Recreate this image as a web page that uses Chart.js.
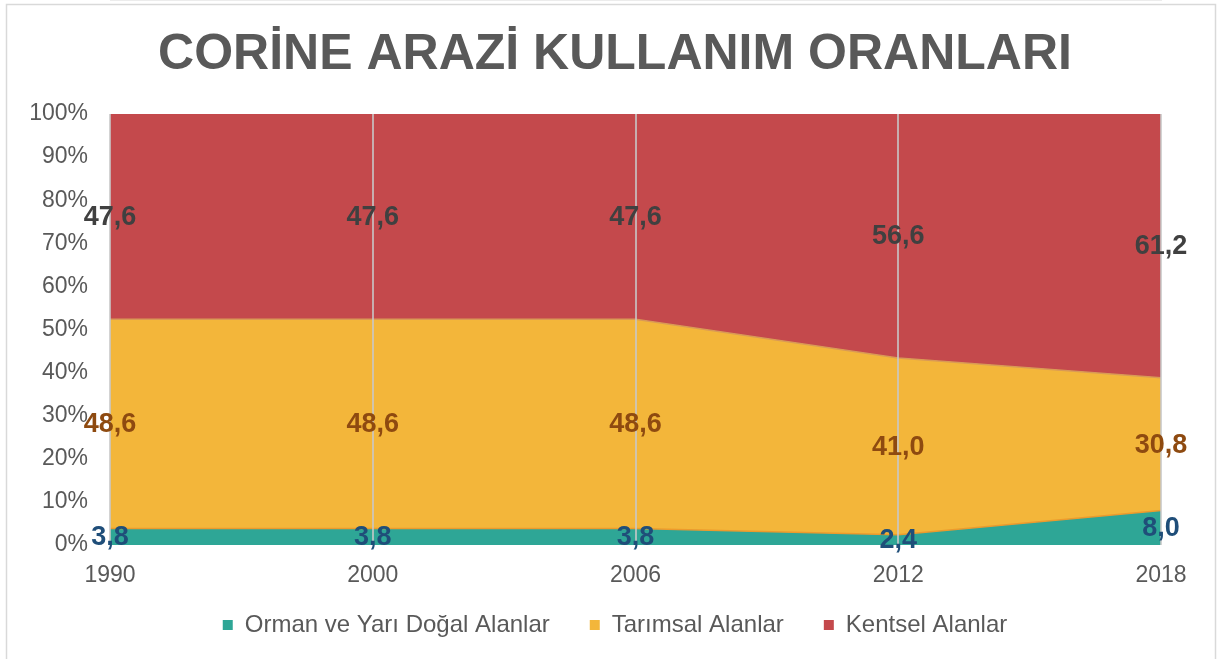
<!DOCTYPE html>
<html>
<head>
<meta charset="utf-8">
<script src="https://cdn.jsdelivr.net/npm/chart.js@4/dist/chart.umd.min.js"></script>
<style>
html,body{margin:0;padding:0;background:#fff;}
#wrap{position:absolute;left:0;top:0;width:1217px;height:659px;}
</style>
</head>
<body>
<div id="wrap"><canvas id="c" width="1217" height="659"></canvas></div>
<script>
const categories = ['1990', '2000', '2006', '2012', '2018'];
const ormanValues = [3.8, 3.8, 3.8, 2.4, 8.0];
const tarimsalValues = [48.6, 48.6, 48.6, 41.0, 30.8];
const kentselValues = [47.6, 47.6, 47.6, 56.6, 61.2];
const seriesNames = ['Orman ve Yarı Doğal Alanlar', 'Tarımsal Alanlar', 'Kentsel Alanlar'];
const yTickValues = [0, 10, 20, 30, 40, 50, 60, 70, 80, 90, 100];
const chartTitle = 'CORİNE ARAZİ KULLANIM ORANLARI';

const FONT = "'Liberation Sans', Arial, sans-serif";
const GREY = '#595959';

const fillColors = ['#2EA696', '#F3B63A', '#C4494C'];
const borderColors = ['#EC9A2C', '#D99A55', '#C4494C'];
const labelColors = ['#1F4E79', '#8E4A10', '#404040'];

const borderPlugin = {
  id: 'outerBorder',
  beforeDraw(chart) {
    const ctx = chart.ctx;
    ctx.save();
    ctx.fillStyle = '#fff';
    ctx.fillRect(0, 0, chart.width, chart.height);
    ctx.strokeStyle = '#D9D9D9';
    ctx.lineWidth = 1.5;
    ctx.beginPath();
    ctx.moveTo(6.5, 700);
    ctx.lineTo(6.5, 4.5);
    ctx.lineTo(1215.5, 4.5);
    ctx.lineTo(1215.5, 700);
    ctx.stroke();
    ctx.restore();
  }
};

const valueLabelPlugin = {
  id: 'valueLabels',
  afterDraw(chart) {
    const ctx = chart.ctx;
    const yScale = chart.scales.y;
    const xScale = chart.scales.x;
    ctx.save();
    ctx.font = "bold 27px " + FONT;
    ctx.textAlign = 'center';
    ctx.textBaseline = 'middle';
    const n = chart.data.labels.length;
    for (let i = 0; i < n; i++) {
      let base = 0;
      chart.data.datasets.forEach((ds, di) => {
        const v = ds.data[i];
        const y = yScale.getPixelForValue(base + v / 2);
        const x = xScale.getPixelForValue(i);
        ctx.fillStyle = labelColors[di];
        ctx.fillText(v.toFixed(1).replace('.', ','), x, y + 1);
        base += v;
      });
    }
    ctx.restore();
  }
};

const datasets = [ormanValues, tarimsalValues, kentselValues].map((vals, i) => ({
  label: seriesNames[i],
  data: vals,
  backgroundColor: fillColors[i],
  borderColor: borderColors[i],
  borderWidth: 1.5,
  fill: i === 0 ? 'origin' : '-1',
  pointRadius: 0,
  tension: 0
}));

function noLabelClip(scale) { scale._computeLabelArea = () => undefined; }

new Chart(document.getElementById('c'), {
  type: 'line',
  data: { labels: categories, datasets },
  plugins: [borderPlugin, valueLabelPlugin],
  options: {
    responsive: false,
    animation: false,
    layout: { padding: { left: 69, right: 56, top: 0, bottom: 12 } },
    plugins: {
      tooltip: { enabled: false },
      title: {
        display: true,
        text: chartTitle,
        color: GREY,
        font: { family: FONT, size: 50, weight: 'bold' },
        padding: { top: 25, bottom: 29 }
      },
      legend: {
        position: 'bottom',
        labels: {
          color: GREY,
          font: { family: FONT, size: 24 },
          boxWidth: 10,
          boxHeight: 10,
          padding: 40,
          generateLabels(chart) {
            return chart.data.datasets.map((ds, i) => ({
              text: ds.label,
              fillStyle: fillColors[i],
              strokeStyle: fillColors[i],
              lineWidth: 0,
              hidden: false,
              datasetIndex: i,
              fontColor: GREY
            }));
          }
        }
      }
    },
    scales: {
      x: {
        offset: false,
        afterFit(scale) { scale.height = 28; noLabelClip(scale); },
        grid: { display: true, z: 1, color: 'rgba(200,200,200,0.8)', lineWidth: 2, drawTicks: false },
        border: { display: true, color: '#D9D9D9' },
        ticks: { color: GREY, font: { family: FONT, size: 23 }, padding: 17, maxRotation: 0 }
      },
      y: {
        stacked: true,
        min: 0,
        max: 100,
        afterFit(scale) { scale.width = 41; noLabelClip(scale); },
        afterBuildTicks(scale) { scale.ticks = yTickValues.map(v => ({ value: v })); },
        grid: { display: false, drawTicks: false },
        border: { display: false },
        ticks: {
          color: GREY,
          font: { family: FONT, size: 23 },
          padding: 22,
          callback: v => v + '%'
        }
      }
    }
  }
});
</script>
</body>
</html>
